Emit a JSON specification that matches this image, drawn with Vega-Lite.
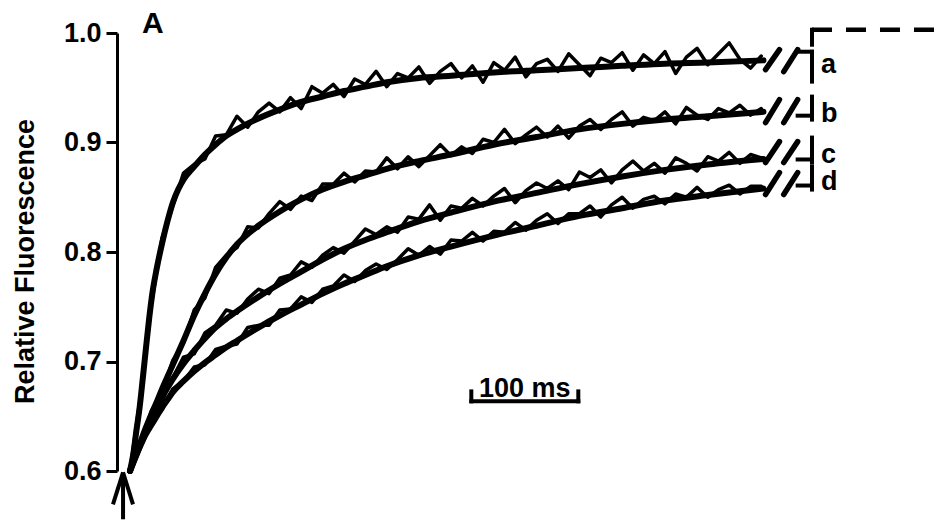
{
  "$schema": "https://vega.github.io/schema/vega-lite/v6.json",
  "autosize": {"type": "none"},
  "padding": {"left": 117, "top": 33, "right": 0, "bottom": 51},
  "width": 819,
  "height": 438,
  "background": "white",
  "config": {"view": {"stroke": null}, "font": "Liberation Sans"},
  "datasets": {
    "fit": [
      {"c":"a","t":0,"v":0.600},{"c":"a","t":3,"v":0.615},{"c":"a","t":6,"v":0.637},{"c":"a","t":9,"v":0.658},{"c":"a","t":12,"v":0.685},{"c":"a","t":15,"v":0.713},{"c":"a","t":18,"v":0.740},{"c":"a","t":21,"v":0.763},{"c":"a","t":25,"v":0.785},{"c":"a","t":30,"v":0.808},{"c":"a","t":35,"v":0.828},{"c":"a","t":40,"v":0.845},{"c":"a","t":45,"v":0.857},{"c":"a","t":50,"v":0.866},{"c":"a","t":60,"v":0.878},{"c":"a","t":70,"v":0.889},{"c":"a","t":80,"v":0.898},{"c":"a","t":90,"v":0.906},{"c":"a","t":100,"v":0.912},{"c":"a","t":120,"v":0.922},{"c":"a","t":140,"v":0.930},{"c":"a","t":160,"v":0.937},{"c":"a","t":180,"v":0.942},{"c":"a","t":200,"v":0.947},{"c":"a","t":220,"v":0.951},{"c":"a","t":240,"v":0.955},{"c":"a","t":270,"v":0.959},{"c":"a","t":300,"v":0.961},{"c":"a","t":340,"v":0.964},{"c":"a","t":380,"v":0.966},{"c":"a","t":420,"v":0.968},{"c":"a","t":460,"v":0.970},{"c":"a","t":500,"v":0.972},{"c":"a","t":540,"v":0.973},{"c":"a","t":592,"v":0.975},
      {"c":"b","t":0,"v":0.600},{"c":"b","t":5,"v":0.614},{"c":"b","t":10,"v":0.627},{"c":"b","t":15,"v":0.640},{"c":"b","t":20,"v":0.652},{"c":"b","t":25,"v":0.663},{"c":"b","t":30,"v":0.675},{"c":"b","t":35,"v":0.686},{"c":"b","t":40,"v":0.697},{"c":"b","t":50,"v":0.719},{"c":"b","t":60,"v":0.742},{"c":"b","t":70,"v":0.762},{"c":"b","t":80,"v":0.780},{"c":"b","t":90,"v":0.795},{"c":"b","t":100,"v":0.807},{"c":"b","t":120,"v":0.824},{"c":"b","t":140,"v":0.837},{"c":"b","t":160,"v":0.848},{"c":"b","t":180,"v":0.857},{"c":"b","t":200,"v":0.864},{"c":"b","t":220,"v":0.870},{"c":"b","t":240,"v":0.876},{"c":"b","t":270,"v":0.883},{"c":"b","t":300,"v":0.889},{"c":"b","t":340,"v":0.898},{"c":"b","t":380,"v":0.905},{"c":"b","t":420,"v":0.912},{"c":"b","t":460,"v":0.917},{"c":"b","t":500,"v":0.921},{"c":"b","t":540,"v":0.924},{"c":"b","t":592,"v":0.928},
      {"c":"c","t":0,"v":0.600},{"c":"c","t":5,"v":0.612},{"c":"c","t":10,"v":0.624},{"c":"c","t":15,"v":0.636},{"c":"c","t":20,"v":0.647},{"c":"c","t":25,"v":0.657},{"c":"c","t":30,"v":0.667},{"c":"c","t":35,"v":0.676},{"c":"c","t":40,"v":0.684},{"c":"c","t":50,"v":0.698},{"c":"c","t":60,"v":0.710},{"c":"c","t":70,"v":0.721},{"c":"c","t":80,"v":0.731},{"c":"c","t":90,"v":0.739},{"c":"c","t":100,"v":0.746},{"c":"c","t":120,"v":0.759},{"c":"c","t":140,"v":0.771},{"c":"c","t":160,"v":0.782},{"c":"c","t":180,"v":0.793},{"c":"c","t":200,"v":0.803},{"c":"c","t":220,"v":0.811},{"c":"c","t":240,"v":0.818},{"c":"c","t":270,"v":0.828},{"c":"c","t":300,"v":0.836},{"c":"c","t":340,"v":0.846},{"c":"c","t":380,"v":0.854},{"c":"c","t":420,"v":0.862},{"c":"c","t":460,"v":0.869},{"c":"c","t":500,"v":0.875},{"c":"c","t":540,"v":0.880},{"c":"c","t":592,"v":0.885},
      {"c":"d","t":0,"v":0.600},{"c":"d","t":5,"v":0.613},{"c":"d","t":10,"v":0.624},{"c":"d","t":15,"v":0.634},{"c":"d","t":20,"v":0.642},{"c":"d","t":25,"v":0.650},{"c":"d","t":30,"v":0.658},{"c":"d","t":35,"v":0.665},{"c":"d","t":40,"v":0.672},{"c":"d","t":50,"v":0.682},{"c":"d","t":60,"v":0.691},{"c":"d","t":70,"v":0.699},{"c":"d","t":80,"v":0.706},{"c":"d","t":90,"v":0.713},{"c":"d","t":100,"v":0.719},{"c":"d","t":120,"v":0.731},{"c":"d","t":140,"v":0.742},{"c":"d","t":160,"v":0.752},{"c":"d","t":180,"v":0.762},{"c":"d","t":200,"v":0.771},{"c":"d","t":220,"v":0.779},{"c":"d","t":240,"v":0.787},{"c":"d","t":270,"v":0.797},{"c":"d","t":300,"v":0.805},{"c":"d","t":340,"v":0.815},{"c":"d","t":380,"v":0.824},{"c":"d","t":420,"v":0.833},{"c":"d","t":460,"v":0.840},{"c":"d","t":500,"v":0.847},{"c":"d","t":540,"v":0.852},{"c":"d","t":592,"v":0.858}
    ],
    "obs": [
      {"c":"a","t":0,"v":0.600},{"c":"a","t":10,"v":0.670},{"c":"a","t":20,"v":0.752},{"c":"a","t":30,"v":0.813},{"c":"a","t":40,"v":0.842},{"c":"a","t":50,"v":0.872},{"c":"a","t":60,"v":0.880},{"c":"a","t":70,"v":0.885},{"c":"a","t":80,"v":0.906},{"c":"a","t":90,"v":0.907},{"c":"a","t":100,"v":0.924},{"c":"a","t":110,"v":0.914},{"c":"a","t":120,"v":0.928},{"c":"a","t":130,"v":0.936},{"c":"a","t":140,"v":0.928},{"c":"a","t":150,"v":0.941},{"c":"a","t":160,"v":0.931},{"c":"a","t":170,"v":0.951},{"c":"a","t":180,"v":0.945},{"c":"a","t":190,"v":0.953},{"c":"a","t":200,"v":0.942},{"c":"a","t":210,"v":0.958},{"c":"a","t":220,"v":0.953},{"c":"a","t":230,"v":0.965},{"c":"a","t":240,"v":0.951},{"c":"a","t":250,"v":0.963},{"c":"a","t":260,"v":0.959},{"c":"a","t":270,"v":0.969},{"c":"a","t":280,"v":0.954},{"c":"a","t":290,"v":0.965},{"c":"a","t":300,"v":0.972},{"c":"a","t":310,"v":0.959},{"c":"a","t":320,"v":0.970},{"c":"a","t":330,"v":0.955},{"c":"a","t":340,"v":0.973},{"c":"a","t":350,"v":0.966},{"c":"a","t":360,"v":0.978},{"c":"a","t":370,"v":0.960},{"c":"a","t":380,"v":0.972},{"c":"a","t":390,"v":0.976},{"c":"a","t":400,"v":0.965},{"c":"a","t":410,"v":0.981},{"c":"a","t":420,"v":0.971},{"c":"a","t":430,"v":0.961},{"c":"a","t":440,"v":0.977},{"c":"a","t":450,"v":0.973},{"c":"a","t":460,"v":0.982},{"c":"a","t":470,"v":0.966},{"c":"a","t":480,"v":0.980},{"c":"a","t":490,"v":0.972},{"c":"a","t":500,"v":0.983},{"c":"a","t":510,"v":0.963},{"c":"a","t":520,"v":0.978},{"c":"a","t":530,"v":0.986},{"c":"a","t":540,"v":0.971},{"c":"a","t":550,"v":0.981},{"c":"a","t":560,"v":0.991},{"c":"a","t":570,"v":0.976},{"c":"a","t":580,"v":0.968},{"c":"a","t":590,"v":0.979},
      {"c":"b","t":0,"v":0.600},{"c":"b","t":10,"v":0.625},{"c":"b","t":20,"v":0.655},{"c":"b","t":30,"v":0.672},{"c":"b","t":40,"v":0.701},{"c":"b","t":50,"v":0.717},{"c":"b","t":60,"v":0.747},{"c":"b","t":70,"v":0.758},{"c":"b","t":80,"v":0.786},{"c":"b","t":90,"v":0.797},{"c":"b","t":100,"v":0.804},{"c":"b","t":110,"v":0.823},{"c":"b","t":120,"v":0.822},{"c":"b","t":130,"v":0.835},{"c":"b","t":140,"v":0.846},{"c":"b","t":150,"v":0.839},{"c":"b","t":160,"v":0.851},{"c":"b","t":170,"v":0.847},{"c":"b","t":180,"v":0.862},{"c":"b","t":190,"v":0.862},{"c":"b","t":200,"v":0.872},{"c":"b","t":210,"v":0.864},{"c":"b","t":220,"v":0.874},{"c":"b","t":230,"v":0.873},{"c":"b","t":240,"v":0.886},{"c":"b","t":250,"v":0.876},{"c":"b","t":260,"v":0.887},{"c":"b","t":270,"v":0.878},{"c":"b","t":280,"v":0.888},{"c":"b","t":290,"v":0.898},{"c":"b","t":300,"v":0.888},{"c":"b","t":310,"v":0.896},{"c":"b","t":320,"v":0.890},{"c":"b","t":330,"v":0.903},{"c":"b","t":340,"v":0.900},{"c":"b","t":350,"v":0.912},{"c":"b","t":360,"v":0.899},{"c":"b","t":370,"v":0.907},{"c":"b","t":380,"v":0.914},{"c":"b","t":390,"v":0.905},{"c":"b","t":400,"v":0.915},{"c":"b","t":410,"v":0.904},{"c":"b","t":420,"v":0.915},{"c":"b","t":430,"v":0.921},{"c":"b","t":440,"v":0.912},{"c":"b","t":450,"v":0.921},{"c":"b","t":460,"v":0.928},{"c":"b","t":470,"v":0.915},{"c":"b","t":480,"v":0.923},{"c":"b","t":490,"v":0.920},{"c":"b","t":500,"v":0.928},{"c":"b","t":510,"v":0.917},{"c":"b","t":520,"v":0.932},{"c":"b","t":530,"v":0.925},{"c":"b","t":540,"v":0.921},{"c":"b","t":550,"v":0.931},{"c":"b","t":560,"v":0.927},{"c":"b","t":570,"v":0.934},{"c":"b","t":580,"v":0.925},{"c":"b","t":590,"v":0.931},
      {"c":"c","t":0,"v":0.600},{"c":"c","t":10,"v":0.626},{"c":"c","t":20,"v":0.644},{"c":"c","t":30,"v":0.671},{"c":"c","t":40,"v":0.685},{"c":"c","t":50,"v":0.704},{"c":"c","t":60,"v":0.707},{"c":"c","t":70,"v":0.726},{"c":"c","t":80,"v":0.733},{"c":"c","t":90,"v":0.747},{"c":"c","t":100,"v":0.744},{"c":"c","t":110,"v":0.757},{"c":"c","t":120,"v":0.766},{"c":"c","t":130,"v":0.762},{"c":"c","t":140,"v":0.776},{"c":"c","t":150,"v":0.779},{"c":"c","t":160,"v":0.791},{"c":"c","t":170,"v":0.786},{"c":"c","t":180,"v":0.797},{"c":"c","t":190,"v":0.804},{"c":"c","t":200,"v":0.799},{"c":"c","t":210,"v":0.810},{"c":"c","t":220,"v":0.821},{"c":"c","t":230,"v":0.816},{"c":"c","t":240,"v":0.823},{"c":"c","t":250,"v":0.818},{"c":"c","t":260,"v":0.832},{"c":"c","t":270,"v":0.830},{"c":"c","t":280,"v":0.843},{"c":"c","t":290,"v":0.829},{"c":"c","t":300,"v":0.842},{"c":"c","t":310,"v":0.840},{"c":"c","t":320,"v":0.849},{"c":"c","t":330,"v":0.842},{"c":"c","t":340,"v":0.851},{"c":"c","t":350,"v":0.858},{"c":"c","t":360,"v":0.845},{"c":"c","t":370,"v":0.856},{"c":"c","t":380,"v":0.863},{"c":"c","t":390,"v":0.858},{"c":"c","t":400,"v":0.865},{"c":"c","t":410,"v":0.857},{"c":"c","t":420,"v":0.873},{"c":"c","t":430,"v":0.868},{"c":"c","t":440,"v":0.875},{"c":"c","t":450,"v":0.863},{"c":"c","t":460,"v":0.875},{"c":"c","t":470,"v":0.883},{"c":"c","t":480,"v":0.874},{"c":"c","t":490,"v":0.881},{"c":"c","t":500,"v":0.872},{"c":"c","t":510,"v":0.886},{"c":"c","t":520,"v":0.881},{"c":"c","t":530,"v":0.874},{"c":"c","t":540,"v":0.887},{"c":"c","t":550,"v":0.883},{"c":"c","t":560,"v":0.891},{"c":"c","t":570,"v":0.881},{"c":"c","t":580,"v":0.889},{"c":"c","t":590,"v":0.886},
      {"c":"d","t":0,"v":0.600},{"c":"d","t":10,"v":0.623},{"c":"d","t":20,"v":0.644},{"c":"d","t":30,"v":0.656},{"c":"d","t":40,"v":0.675},{"c":"d","t":50,"v":0.682},{"c":"d","t":60,"v":0.695},{"c":"d","t":70,"v":0.697},{"c":"d","t":80,"v":0.711},{"c":"d","t":90,"v":0.714},{"c":"d","t":100,"v":0.716},{"c":"d","t":110,"v":0.731},{"c":"d","t":120,"v":0.733},{"c":"d","t":130,"v":0.733},{"c":"d","t":140,"v":0.747},{"c":"d","t":150,"v":0.748},{"c":"d","t":160,"v":0.759},{"c":"d","t":170,"v":0.754},{"c":"d","t":180,"v":0.766},{"c":"d","t":190,"v":0.769},{"c":"d","t":200,"v":0.779},{"c":"d","t":210,"v":0.773},{"c":"d","t":220,"v":0.783},{"c":"d","t":230,"v":0.789},{"c":"d","t":240,"v":0.784},{"c":"d","t":250,"v":0.793},{"c":"d","t":260,"v":0.803},{"c":"d","t":270,"v":0.797},{"c":"d","t":280,"v":0.805},{"c":"d","t":290,"v":0.798},{"c":"d","t":300,"v":0.811},{"c":"d","t":310,"v":0.810},{"c":"d","t":320,"v":0.818},{"c":"d","t":330,"v":0.810},{"c":"d","t":340,"v":0.819},{"c":"d","t":350,"v":0.818},{"c":"d","t":360,"v":0.827},{"c":"d","t":370,"v":0.820},{"c":"d","t":380,"v":0.829},{"c":"d","t":390,"v":0.835},{"c":"d","t":400,"v":0.826},{"c":"d","t":410,"v":0.835},{"c":"d","t":420,"v":0.835},{"c":"d","t":430,"v":0.842},{"c":"d","t":440,"v":0.832},{"c":"d","t":450,"v":0.843},{"c":"d","t":460,"v":0.850},{"c":"d","t":470,"v":0.840},{"c":"d","t":480,"v":0.848},{"c":"d","t":490,"v":0.851},{"c":"d","t":500,"v":0.844},{"c":"d","t":510,"v":0.853},{"c":"d","t":520,"v":0.850},{"c":"d","t":530,"v":0.859},{"c":"d","t":540,"v":0.850},{"c":"d","t":550,"v":0.857},{"c":"d","t":560,"v":0.861},{"c":"d","t":570,"v":0.853},{"c":"d","t":580,"v":0.860},{"c":"d","t":590,"v":0.860}
    ],
    "seg": [
      {"k":"slash","t":594,"v":0.9665,"t2":607,"v2":0.9848},{"k":"slash","t":611,"v":0.9647,"t2":624,"v2":0.9848},
      {"k":"slash","t":594,"v":0.9182,"t2":607,"v2":0.9392},{"k":"slash","t":611,"v":0.9182,"t2":624,"v2":0.9392},
      {"k":"slash","t":594,"v":0.8817,"t2":607,"v2":0.9008},{"k":"slash","t":611,"v":0.8817,"t2":624,"v2":0.9008},
      {"k":"slash","t":594,"v":0.8525,"t2":607,"v2":0.8725},{"k":"slash","t":611,"v":0.8525,"t2":624,"v2":0.8725},
      {"k":"brk","t":624,"v":0.9829,"t2":637.4,"v2":0.9829},{"k":"brk","t":637.4,"v":0.9829,"t2":637.4,"v2":0.9556},{"k":"brk","t":637.4,"v":1.003,"t2":637.4,"v2":0.9893},
      {"k":"brk","t":624,"v":0.9245,"t2":637.4,"v2":0.9245},{"k":"brk","t":637.4,"v":0.9419,"t2":637.4,"v2":0.9209},
      {"k":"brk","t":624,"v":0.8845,"t2":637.4,"v2":0.8845},{"k":"brk","t":637.4,"v":0.9045,"t2":637.4,"v2":0.8817},
      {"k":"brk","t":624,"v":0.8607,"t2":637.4,"v2":0.8607},{"k":"brk","t":637.4,"v":0.8780,"t2":637.4,"v2":0.8570},
      {"k":"brk","t":319,"v":0.6636,"t2":419,"v2":0.6636},{"k":"brk","t":319,"v":0.6636,"t2":319,"v2":0.6727},{"k":"brk","t":419,"v":0.6636,"t2":419,"v2":0.6727},
      {"k":"arrow","t":-6.5,"v":0.5559,"t2":-6.5,"v2":0.5975},{"k":"arrow","t":-15.9,"v":0.5696,"t2":-6.5,"v2":0.5988},{"k":"arrow","t":2.8,"v":0.5696,"t2":-6.5,"v2":0.5988},
      {"k":"dash","t":637.4,"v":1.003,"t2":753.3,"v2":1.003}
    ],
    "txt": [
      {"k":"lab","s":"a","t":645.8,"v":0.9638},{"k":"lab","s":"b","t":645.8,"v":0.919},{"k":"lab","s":"c","t":645.8,"v":0.8817},{"k":"lab","s":"d","t":645.8,"v":0.8570},
      {"k":"bar","s":"100 ms","t":369,"v":0.6679},
      {"k":"panel","s":"A","t":11.2,"v":1.0003}
    ]
  },
  "encoding": {
    "x": {"field": "t", "type": "quantitative", "scale": {"domain": [-12.15, 753.3], "nice": false, "zero": false}, "axis": null},
    "y": {"field": "v", "type": "quantitative", "scale": {"domain": [0.6, 1.0], "nice": false, "zero": false},
      "axis": {"values": [0.6, 0.7, 0.8, 0.9, 1.0], "format": ".1f", "grid": false,
        "domainColor": "black", "domainWidth": 3, "tickColor": "black", "tickWidth": 3, "tickSize": 11,
        "labelFont": "Liberation Sans", "labelFontSize": 27, "labelFontWeight": "bold", "labelColor": "black", "labelPadding": 5,
        "title": "Relative Fluorescence", "titleFont": "Liberation Sans", "titleFontSize": 27, "titleFontWeight": "bold", "titleColor": "black",
        "titleAngle": -90, "titleX": -84, "titleY": 228, "titleAlign": "center", "titleBaseline": "alphabetic"}}
  },
  "layer": [
    {"data": {"name": "fit"}, "mark": {"type": "line", "interpolate": "monotone", "strokeWidth": 6, "color": "black", "clip": false, "strokeCap": "round", "strokeJoin": "round"},
      "encoding": {"detail": {"field": "c"}}},
    {"data": {"name": "obs"}, "mark": {"type": "line", "strokeWidth": 3.5, "color": "black", "clip": false, "strokeJoin": "round", "strokeCap": "round"},
      "encoding": {"detail": {"field": "c"}}},
    {"data": {"name": "seg"}, "transform": [{"filter": "datum.k == 'slash'"}], "mark": {"type": "rule", "strokeWidth": 5.5, "color": "black", "strokeCap": "round", "clip": false},
      "encoding": {"x2": {"field": "t2"}, "y2": {"field": "v2"}}},
    {"data": {"name": "seg"}, "transform": [{"filter": "datum.k == 'brk'"}], "mark": {"type": "rule", "strokeWidth": 4, "color": "black", "strokeCap": "square", "clip": false},
      "encoding": {"x2": {"field": "t2"}, "y2": {"field": "v2"}}},
    {"data": {"name": "seg"}, "transform": [{"filter": "datum.k == 'arrow'"}], "mark": {"type": "rule", "strokeWidth": 4, "color": "black", "strokeCap": "butt", "clip": false},
      "encoding": {"x2": {"field": "t2"}, "y2": {"field": "v2"}}},
    {"data": {"name": "seg"}, "transform": [{"filter": "datum.k == 'dash'"}], "mark": {"type": "rule", "strokeWidth": 4.5, "color": "black", "strokeDash": [20, 14], "clip": false},
      "encoding": {"x2": {"field": "t2"}, "y2": {"field": "v2"}}},
    {"data": {"name": "txt"}, "transform": [{"filter": "datum.k == 'lab'"}], "mark": {"type": "text", "align": "left", "baseline": "alphabetic", "font": "Liberation Sans", "fontSize": 27, "fontWeight": "bold", "color": "black"},
      "encoding": {"text": {"field": "s"}}},
    {"data": {"name": "txt"}, "transform": [{"filter": "datum.k == 'bar'"}], "mark": {"type": "text", "align": "center", "baseline": "alphabetic", "font": "Liberation Sans", "fontSize": 27, "fontWeight": "bold", "color": "black"},
      "encoding": {"text": {"field": "s"}}},
    {"data": {"name": "txt"}, "transform": [{"filter": "datum.k == 'panel'"}], "mark": {"type": "text", "align": "left", "baseline": "alphabetic", "font": "Liberation Sans", "fontSize": 30, "fontWeight": "bold", "color": "black"},
      "encoding": {"text": {"field": "s"}}}
  ]
}
